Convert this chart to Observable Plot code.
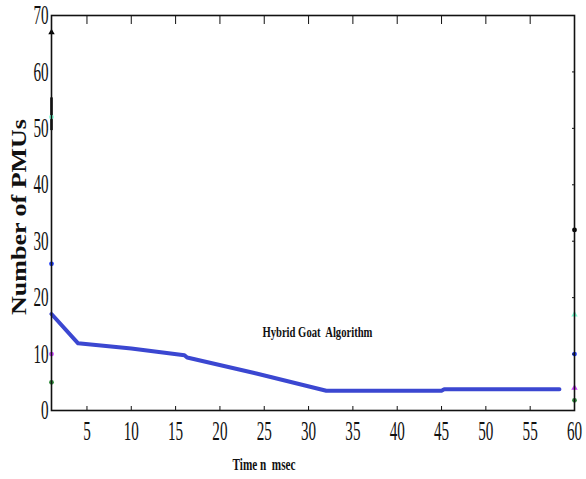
<!DOCTYPE html>
<html>
<head>
<meta charset="utf-8">
<script src="https://cdn.jsdelivr.net/npm/d3@7"></script>
<script src="https://cdn.jsdelivr.net/npm/@observablehq/plot@0.6"></script>
<style>
  html, body { margin: 0; padding: 0; background: #fff; }
</style>
</head>
<body>
<div id="chart"></div>
<script>
// Hybrid Goat Algorithm curve (time in msec, number of PMUs)
const timeMs = [1, 4, 10, 16, 16.3, 24, 32, 45, 45.3, 58.3];
const pmus   = [17.1, 11.9, 11.0, 9.8, 9.4, 6.6, 3.5, 3.5, 3.75, 3.75];

// partially visible markers of other series at the plot edges
const markerX      = [1, 1, 1, 1, 1, 60, 60, 60, 60, 60];
const markerY      = [67, 52, 26, 10, 5, 32, 17, 10, 4, 1.8];
const markerColor  = ["black", "#7fffd4", "#2040ff", "#cc44ff", "#2e8b3a", "black", "#7fffd4", "#2040ff", "#cc44ff", "#2e8b3a"];
const markerSymbol = ["triangle", "circle", "circle", "circle", "circle", "circle", "triangle", "circle", "triangle", "circle"];
const segX = [1], segY1 = [49.6], segY2 = [55.4];

const xTicks = [5, 10, 15, 20, 25, 30, 35, 40, 45, 50, 55, 60];
const yTicks = [0, 10, 20, 30, 40, 50, 60, 70];
const seriesLabel = "Hybrid Goat  Algorithm";
const xLabel = "Time n  msec";
const yLabel = "Number of PMUs";

const line = timeMs.map((t, i) => ({t, v: pmus[i]}));
const markers = markerX.map((x, i) => ({x, y: markerY[i], c: markerColor[i], s: markerSymbol[i]}));
const seg = segX.map((x, i) => ({x, y1: segY1[i], y2: segY2[i]}));

const svg = Plot.plot({
  width: 586,
  height: 479,
  marginLeft: 51,
  marginRight: 12,
  marginTop: 15,
  marginBottom: 69,
  style: {fontFamily: "'Liberation Serif', serif", background: "#fff", color: "#111"},
  x: {domain: [1, 60]},
  y: {domain: [0, 70]},
  marks: [
    Plot.line(line, {x: "t", y: "v", stroke: "#3b47d1", strokeWidth: 4}),
    Plot.ruleX(seg, {x: "x", y1: "y1", y2: "y2", stroke: "black", strokeWidth: 2.5}),
    Plot.dot(markers, {x: "x", y: "y", fill: "c", symbol: "s", r: 2.4}),
    Plot.frame({stroke: "#111", strokeWidth: 1.6}),
    // bottom axis: inward ticks + labels
    Plot.axisX({ticks: xTicks, tickSize: -4, tickFormat: () => "", label: null}),
    Plot.axisX({ticks: xTicks, tickSize: 0, tickPadding: 10, fontSize: 27, label: null}),
    // top inward ticks
    Plot.axisX({anchor: "top", ticks: xTicks, tickSize: -8, tickFormat: () => "", label: null}),
    // left labels
    Plot.axisY({ticks: yTicks, tickSize: 0, tickPadding: 3, fontSize: 27, label: null}),
    // right inward ticks
    Plot.axisY({anchor: "right", ticks: yTicks, tickSize: -3, tickFormat: () => "", label: null}),
    Plot.text([seriesLabel], {x: 31, y: 13.8, fontSize: 15, fontWeight: "bold", fill: "#111"}),
    Plot.text([xLabel], {frameAnchor: "bottom", dx: -49, dy: 59, fontSize: 16, fontWeight: "bold", fill: "#111"}),
    Plot.text([yLabel], {frameAnchor: "left", textAnchor: "middle", dx: -32, dy: 4, rotate: -90, fontSize: 20, fontWeight: "bold", fill: "#111"})
  ]
});

function squeeze(selector, sx) {
  svg.querySelectorAll(selector).forEach(t => {
    let tr = t.getAttribute("transform");
    if (!tr) {
      const x = +t.getAttribute("x") || 0, y = +t.getAttribute("y") || 0;
      t.removeAttribute("x"); t.removeAttribute("y");
      tr = `translate(${x},${y})`;
    }
    t.setAttribute("transform", tr + ` scale(${sx},1)`);
  });
}
squeeze('g[aria-label="x-axis tick label"] text', 0.56);
squeeze('g[aria-label="y-axis tick label"] text', 0.56);

const fits = {[seriesLabel]: [110, "spacingAndGlyphs"], [xLabel]: [63, "spacingAndGlyphs"]};
svg.querySelectorAll('g[aria-label="text"] text').forEach(t => {
  const f = fits[t.textContent];
  if (f) { t.setAttribute("textLength", f[0]); t.setAttribute("lengthAdjust", f[1]); }
  if (t.textContent === yLabel) t.setAttribute("transform", (t.getAttribute("transform") || "") + " scale(1.3,1)");
});

document.getElementById("chart").appendChild(svg);
</script>
</body>
</html>
